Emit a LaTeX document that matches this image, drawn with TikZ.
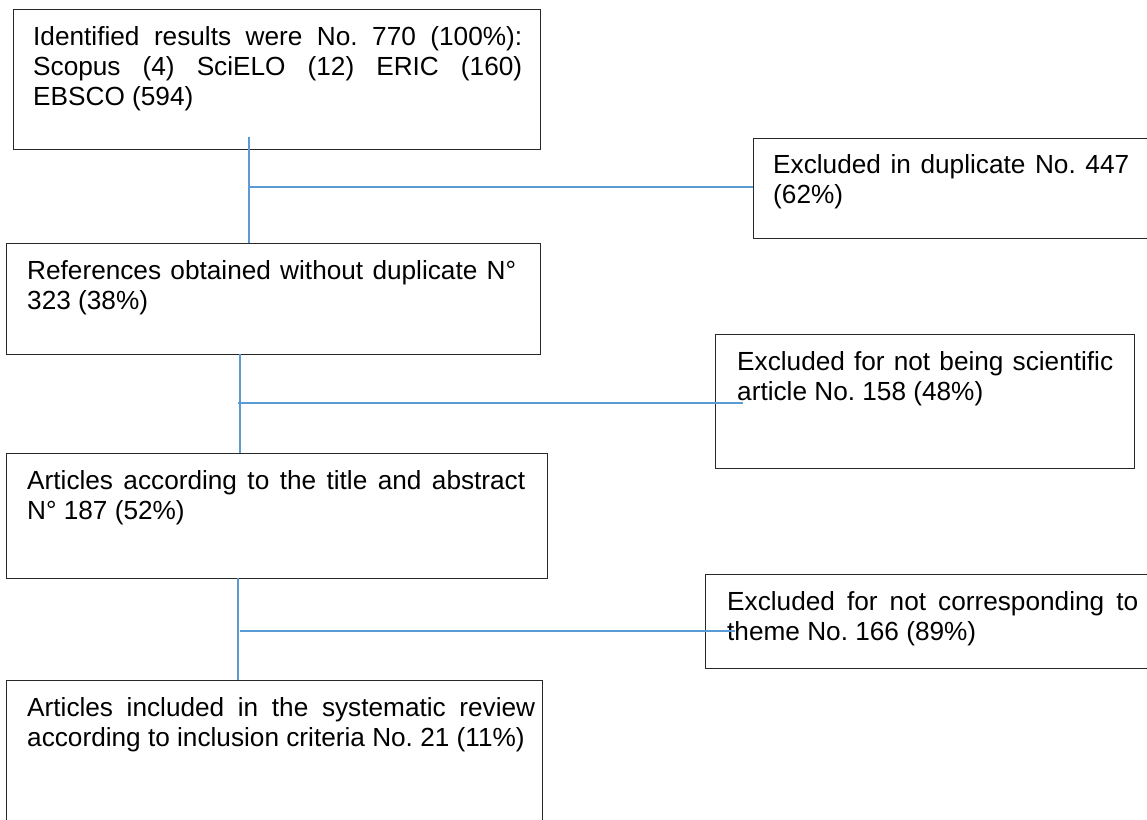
\documentclass[tikz,border=0pt]{standalone}
\usepackage{fontspec}
\setmainfont{Liberation Sans}
\definecolor{conn}{RGB}{91,155,213}
\definecolor{edge}{RGB}{40,40,40}
\hyphenpenalty=10000
\exhyphenpenalty=10000
\tolerance=10000
\hbadness=10000
\frenchspacing
\begin{document}
\begin{tikzpicture}[x=1pt,y=-1pt,
  boxstyle/.style={draw=edge,line width=1.2pt,fill=none,inner sep=0pt,anchor=north west},
  txt/.style={anchor=base west,inner sep=0pt,align=justify,
    font=\fontsize{26.2}{30}\selectfont\frenchspacing},
  connector/.style={draw=conn,line width=1.4pt}]
\useasboundingbox (0,0) rectangle (1147,819);
\clip (0,0) rectangle (1147,819);
% boxes
\node[boxstyle,minimum width=527pt,minimum height=140pt] (b1) at (13,9) {};
\node[boxstyle,minimum width=420pt,minimum height=100pt] (dup) at (753,138) {};
\node[boxstyle,minimum width=534pt,minimum height=111pt] (b2) at (6,243) {};
\node[boxstyle,minimum width=419pt,minimum height=134pt] (sci) at (715,334) {};
\node[boxstyle,minimum width=541pt,minimum height=125pt] (b3) at (6,453) {};
\node[boxstyle,minimum width=480pt,minimum height=94pt] (theme) at (705,574) {};
\node[boxstyle,minimum width=536pt,minimum height=160pt] (b4) at (6,680) {};
% texts
\node[txt,text width=489pt] (t1) at (33,45) {Identified results were No. 770 (100\%):\linebreak Scopus (4) SciELO (12) ERIC (160)\linebreak EBSCO (594)};
\node[txt,text width=356pt] (tdup) at (773,173) {Excluded in duplicate No. 447\linebreak (62\%)};
\node[txt,text width=489pt] (t2) at (27,279) {References obtained without duplicate N°\linebreak 323 (38\%)};
\node[txt,text width=376pt] (tsci) at (737,370) {Excluded for not being scientific\linebreak article No. 158 (48\%)};
\node[txt,text width=498pt] (t3) at (27,489) {Articles according to the title and abstract\linebreak N° 187 (52\%)};
\node[txt,text width=411pt] (ttheme) at (727,610) {Excluded for not corresponding to\linebreak theme No. 166 (89\%)};
\node[txt,text width=508pt] (t4) at (27,716) {Articles included in the systematic review\linebreak according to inclusion criteria No. 21 (11\%)};
% connectors
\coordinate (s1) at (249,137);
\coordinate (j1) at (249,187);
\draw[connector] (s1) -- (s1 |- b2.north);
\draw[connector] (j1) -- (dup.west |- j1);
\coordinate (s2) at (240,354);
\coordinate (j2) at (238,403);
\coordinate (e2) at (743,403);
\draw[connector] (s2) -- (s2 |- b3.north);
\draw[connector] (j2) -- (e2);
\coordinate (s3) at (238,578);
\coordinate (j3) at (240,631);
\coordinate (e3) at (735,631);
\draw[connector] (s3) -- (s3 |- b4.north);
\draw[connector] (j3) -- (e3);
\end{tikzpicture}
\end{document}
